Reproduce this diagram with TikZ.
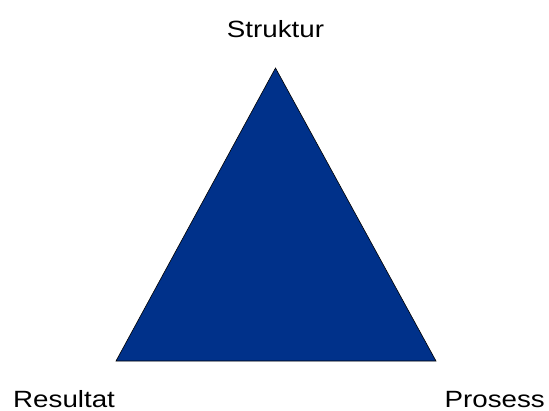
\documentclass[tikz,border=0pt]{standalone}
\usepackage{fontspec}
\setmainfont{Liberation Sans}
\definecolor{triblue}{HTML}{00318A}
\begin{document}
\begin{tikzpicture}[x=1pt,y=1pt,
  lbl/.style={inner sep=0pt,font=\fontsize{23.5}{26}\selectfont},
  tri/.style={fill=triblue,draw=black,line width=0.6pt,line join=miter}]
\useasboundingbox (0,0) rectangle (549,410);
\coordinate (top) at (275.5,342);
\coordinate (bl) at (116,49);
\coordinate (br) at (436,49);
\filldraw[tri] (top) -- (bl) -- (br) -- cycle;
\node[lbl,anchor=base] (s) at (275.5,372) {\scalebox{1.18}[1]{Struktur}};
\node[lbl,anchor=base west] (r) at (13,3) {\scalebox{1.18}[1]{Resultat}};
\node[lbl,anchor=base east] (p) at (545,3) {\scalebox{1.18}[1]{Prosess}};
\end{tikzpicture}
\end{document}
